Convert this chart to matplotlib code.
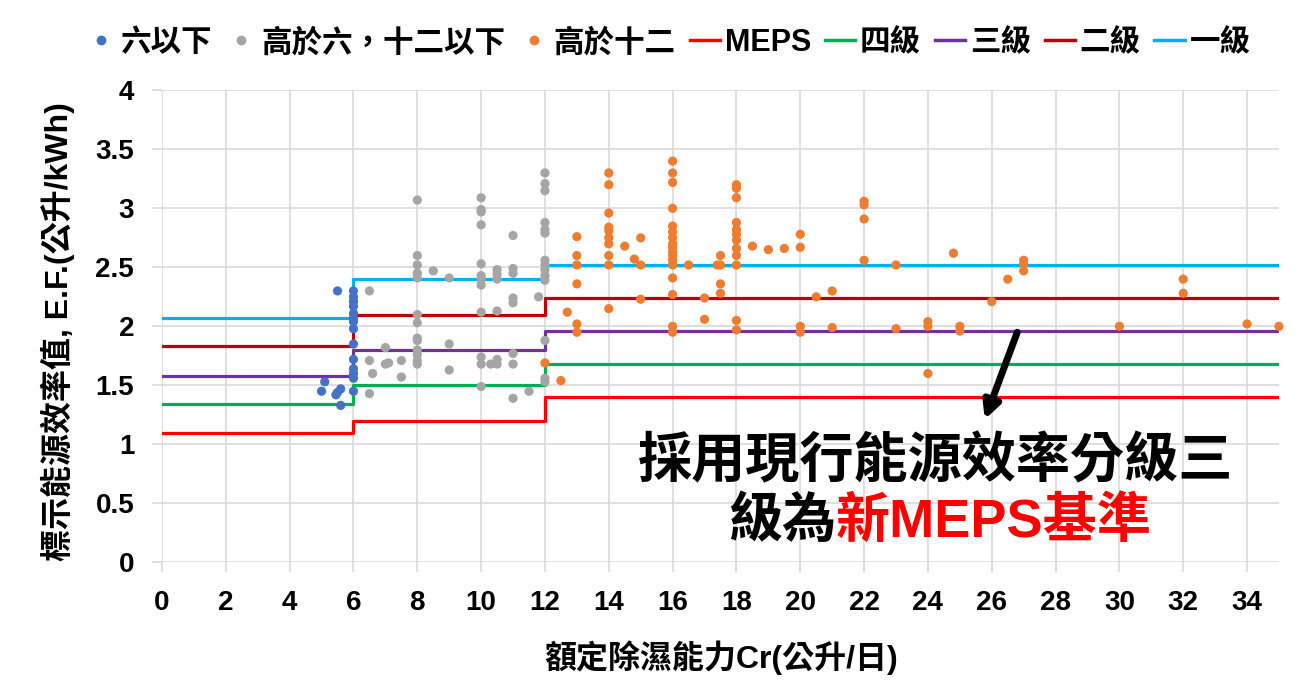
import numpy as np
import matplotlib
matplotlib.use("Agg")
import matplotlib.pyplot as plt
from matplotlib.lines import Line2D

plt.rcParams['font.family'] = ['Liberation Sans', 'Noto Sans CJK TC', 'DejaVu Sans']
plt.rcParams['font.weight'] = 'bold'

# 能力分級門檻 (公升/日)
cap_edges = [0, 6, 12, 35]

# 各等級基準 (每一區間一個值)
meps  = [1.10, 1.20, 1.40]
lv4   = [1.34, 1.50, 1.68]
lv3   = [1.58, 1.80, 1.96]
lv2   = [1.83, 2.10, 2.24]
lv1   = [2.07, 2.40, 2.52]

# 六以下
le6_x = [5.5, 6, 6, 6, 6, 6, 6, 6, 6, 6, 6, 6, 6, 6, 6, 5.1, 5.0, 5.45, 5.6, 5.5, 5.6]
le6_y = [2.30, 2.30, 2.25, 2.21, 2.17, 2.11, 2.07, 2.04, 1.98, 1.85, 1.72, 1.64, 1.60, 1.56, 1.45,
         1.53, 1.45, 1.42, 1.47, 1.44, 1.33]

# 高於六，十二以下
mid_x = [6.5, 7.0, 6.5, 6.6, 7.0, 7.1, 7.5, 7.5, 6.5,
         8, 8, 8, 8, 8, 8, 8, 8, 8, 8, 8, 8, 8,
         8.5, 9.0, 9.0, 9.0,
         10, 10, 10, 10, 10, 10, 10, 10, 10, 10, 10, 10,
         10.5, 10.5, 10.5, 10.5, 10.5, 10.5, 10.3,
         11, 11, 11, 11, 11, 11, 11, 11,
         11.5, 11.8,
         12, 12, 12, 12, 12, 12, 12, 12, 12, 12, 12, 12, 12, 12]
mid_y = [2.30, 1.82, 1.71, 1.60, 1.68, 1.69, 1.71, 1.57, 1.43,
         3.07, 2.60, 2.52, 2.45, 2.41, 2.10, 2.03, 1.90, 1.88, 1.80, 1.76, 1.71, 1.68,
         2.47, 2.41, 1.85, 1.63,
         3.09, 2.99, 2.97, 2.86, 2.53, 2.43, 2.40, 2.35, 2.12, 1.74, 1.68, 1.49,
         2.48, 2.44, 2.40, 2.13, 1.72, 1.68, 1.68,
         2.77, 2.49, 2.45, 2.24, 2.20, 1.77, 1.68, 1.39,
         1.45, 2.25,
         3.30, 3.21, 3.15, 2.88, 2.82, 2.79, 2.56, 2.52, 2.48, 2.43, 2.39, 1.88, 1.56, 1.53]

# 高於十二
hi_x = [12, 12.5, 12.7,
        13, 13, 13, 13, 13, 13,
        14, 14, 14, 14, 14, 14, 14, 14, 14, 14,
        14.5, 14.8, 15, 15, 15,
        16, 16, 16, 16, 16, 16, 16, 16, 16, 16, 16, 16, 16, 16, 16, 16, 16,
        16.5, 17, 17, 17.4, 17.5, 17.5, 17.5, 17.5,
        18, 18, 18, 18, 18, 18, 18, 18, 18, 18, 18, 18,
        18.5, 19, 19.5,
        20, 20, 20, 20,
        20.5, 21, 21,
        22, 22, 22, 22,
        23, 23, 24, 24, 24, 24.8, 25, 25, 26, 26.5, 27, 27, 27, 30, 32, 32, 34, 35]
hi_y = [1.69, 1.54, 2.12,
        2.76, 2.60, 2.52, 2.36, 2.02, 1.95,
        3.30, 3.20, 2.96, 2.84, 2.81, 2.75, 2.70, 2.60, 2.52, 2.15,
        2.68, 2.57, 2.75, 2.52, 2.23,
        3.40, 3.30, 3.22, 3.00, 2.85, 2.80, 2.75, 2.70, 2.67, 2.63, 2.60, 2.56, 2.52, 2.41, 2.27, 2.00, 1.95,
        2.52, 2.24, 2.06, 2.52, 2.52, 2.60, 2.36, 2.28,
        3.20, 3.17, 3.09, 2.88, 2.82, 2.78, 2.73, 2.66, 2.60, 2.52, 2.05, 1.97,
        2.68, 2.65, 2.66,
        2.78, 2.67, 2.00, 1.95,
        2.25, 2.30, 1.99,
        3.06, 3.03, 2.91, 2.56,
        2.52, 1.98, 2.04, 2.00, 1.60, 2.62, 2.00, 1.96, 2.21, 2.40, 2.56, 2.53, 2.47, 2.00, 2.40, 2.28, 2.02, 2.00]

fig = plt.figure(figsize=(12.97, 6.95), dpi=100)
ax = fig.add_axes([0.1249, 0.1909, 0.8612, 0.6791])

grid_c = "#d9d9d9"

# 分級基準階梯線
steps = [("MEPS", meps, "#FF0000"), ("四級", lv4, "#00B050"), ("三級", lv3, "#7030A0"),
         ("二級", lv2, "#C00000"), ("一級", lv1, "#00B0F0")]
for name, vals, c in steps:
    ax.step(cap_edges, vals + [vals[-1]], where="post", color=c, lw=2.3, zorder=2)

# 散佈點
sc = [("六以下", le6_x, le6_y, "#4472C4"),
      ("高於六，十二以下", mid_x, mid_y, "#A5A5A5"),
      ("高於十二", hi_x, hi_y, "#ED7D31")]
for name, xs, ys, c in sc:
    ax.scatter(xs, ys, s=44, color=c, edgecolors="none", zorder=3, clip_on=False)

ax.set_xlim(0, 35)
ax.set_ylim(0, 4)
ax.set_xticks(np.arange(0, 35, 2))
ax.set_yticks(np.arange(0, 4.01, 0.5))
ax.set_yticklabels(["0", "0.5", "1", "1.5", "2", "2.5", "3", "3.5", "4"])
ax.grid(True, color=grid_c, lw=1.2, zorder=0)
ax.set_axisbelow(True)
for s in ax.spines.values():
    s.set_visible(False)
ax.tick_params(axis="both", length=7, width=1.2, color=grid_c, pad=13, labelsize=20)

ax.set_xlabel("額定除濕能力Cr(公升/日)", fontsize=23, fontweight="bold")
ax.xaxis.set_label_coords(0.501, -0.166)
ax.set_ylabel("標示能源效率值, E.F.(公升/kWh)", fontsize=23, fontweight="bold")
ax.yaxis.set_label_coords(-0.078, 0.488)

# 圖例
handles = []
for name, xs, ys, c in sc:
    handles.append(Line2D([], [], ls="none", marker="o", ms=6, color=c, label=name))
for name, vals, c in steps:
    handles.append(Line2D([], [], color=c, lw=2.5, label=name))
fig.legend(handles=handles, loc="center", bbox_to_anchor=(0.515, 0.938), ncol=8,
           frameon=False, fontsize=22, handlelength=1.0, handletextpad=0.15,
           columnspacing=0.45, borderaxespad=0)

# 說明文字與箭頭
ax.annotate("", xy=(25.78, 1.21), xytext=(26.8, 1.95),
            arrowprops=dict(arrowstyle="-|>,head_width=0.5,head_length=1.0", color="black",
                            lw=5, shrinkA=0, shrinkB=0), zorder=4)
fig.text(0.721, 0.335, "採用現行能源效率分級三", fontsize=39, fontweight="bold",
         ha="center", va="center", color="black")
fig.text(0.6446, 0.249, "級為", fontsize=39, fontweight="bold",
         ha="right", va="center", color="black")
fig.text(0.6446, 0.249, "新MEPS基準", fontsize=39, fontweight="bold",
         ha="left", va="center", color="#FF0000")

fig.savefig("out.png", dpi=100)
